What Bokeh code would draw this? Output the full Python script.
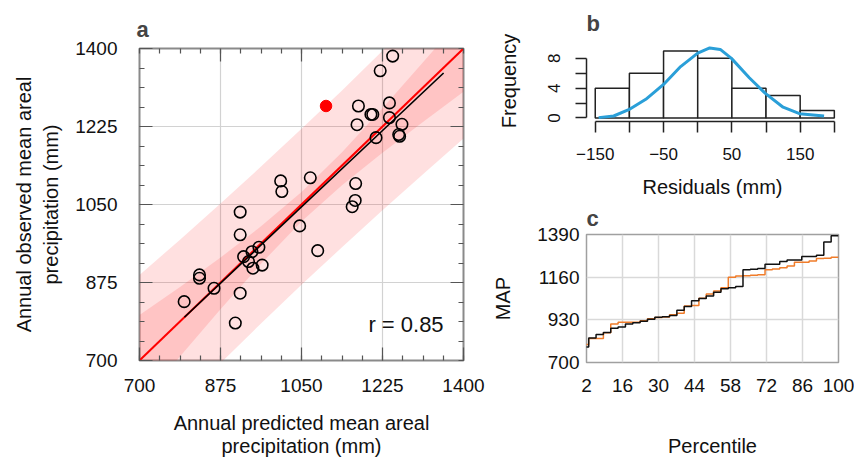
import math
from bokeh.plotting import figure
from bokeh.layouts import row, column
from bokeh.models import LinearAxis, FixedTicker, Range1d
from bokeh.core.properties import value
from bokeh.embed import file_html
from bokeh.resources import INLINE

FONT = "Liberation Sans"

# ---------------- data ----------------
# panel a: predicted (x) vs observed (y) annual mean areal precipitation (mm)
pred = [1247, 1220, 1173, 1200, 1204, 1240, 1240, 1170, 1267, 1211, 1260, 1262,
        1069, 1005, 1007.5, 1167, 1166, 1159.5, 1046, 917.5, 917.5, 1085, 958,
        943, 925, 935.5, 945, 965, 829.6, 829.6, 861, 917.5, 796.5, 907]
obs = [1383, 1350, 1271, 1252, 1252, 1278, 1245, 1229, 1230, 1200, 1207, 1203,
       1110, 1103, 1079, 1097, 1059, 1045, 1002, 1033, 982, 946.5, 954,
       944, 933, 922, 907, 914, 892, 884.5, 862, 851, 832, 784]
red_pred = [1103]
red_obs = [1271]

# regression line and interval bands
fit_x = [797, 1357]
fit_y = [797, 1345]
one_x = [700, 1400]
one_y = [700, 1400]
band_x = [700, 787.5, 875, 962.5, 1050, 1137.5, 1225, 1312.5, 1400]
pi_lo = [512, 603, 694, 783, 870, 954, 1037, 1118, 1198]
pi_hi = [892, 971, 1052, 1135, 1220, 1306, 1395, 1486, 1578]
ci_lo = [602, 709, 815, 917, 1012, 1093, 1166, 1235, 1303]
ci_hi = [802, 865, 931, 1001, 1078, 1167, 1266, 1369, 1473]
r_text = "r = 0.85"

# panel b: histogram of residuals
bin_left = [-150, -100, -50, 0, 50, 100, 150]
bin_right = [-100, -50, 0, 50, 100, 150, 200]
counts = [4, 6, 9, 8, 4, 3, 1]
curve_x = [-145, -123, -101, -76, -50, -25, 0, 17.6, 33, 49.4, 75.5, 99, 125, 149, 185]
curve_y = [0.04, 0.26, 1.1, 2.5, 4.5, 6.9, 8.7, 9.4, 9.2, 8.0, 5.4, 3.3, 1.44, 0.57, 0.26]

# panel c: sorted values vs percentile
obs_all = sorted(obs + red_obs)
pred_all = sorted(pred + red_pred)
n = len(obs_all)
pct = [100.0 * i / n for i in range(n)] + [100.0]
obs_step = obs_all + [obs_all[-1]]
pred_step = pred_all + [pred_all[-1]]

a_ticks = [700, 875, 1050, 1225, 1400]
a_inner = [875, 1050, 1225]
a_minor = [700 + 43.75 * k for k in range(17)]
c_xticks = [2, 16, 30, 44, 58, 72, 86, 100]
c_yticks = [700, 930, 1160, 1390]

# ---------------- panel a ----------------
pa = figure(width=488, height=459, x_range=Range1d(700, 1400), y_range=Range1d(700, 1400),
            output_backend="svg", toolbar_location=None,
            min_border_left=139, min_border_right=25, min_border_top=48, min_border_bottom=98)
pa.outline_line_color = "#8a8a8a"
pa.outline_line_width = 2

pa.varea(x=band_x, y1=pi_lo, y2=pi_hi, fill_color="red", fill_alpha=0.12)
pa.varea(x=band_x, y1=ci_lo, y2=ci_hi, fill_color="red", fill_alpha=0.12)
pa.line(one_x, one_y, color="red", line_width=2)
pa.line(fit_x, fit_y, color="black", line_width=1.6)
pa.scatter(pred, obs, size=11.5, fill_color=None, line_color="black", line_width=1.6)
pa.scatter(red_pred, red_obs, size=11.5, fill_color="red", line_color="red")
pa.text(x=[1357], y=[781], text=[r_text], text_align="right", text_baseline="middle",
        text_font=value(FONT), text_font_size="22px", text_color="#111")

# long inward ticks on the top and right sides (13 px ~ 28 data units)
pa.segment(x0=a_inner, y0=[1400] * 3, x1=a_inner, y1=[1371] * 3, line_color="#555", line_width=1.2)
pa.segment(x0=[1400] * 3, y0=a_inner, x1=[1372] * 3, y1=a_inner, line_color="#555", line_width=1.2)

for g in (pa.xgrid[0], pa.ygrid[0]):
    g.ticker = FixedTicker(ticks=a_inner)
    g.grid_line_color = "#d2d2d2"
    g.grid_line_width = 1.2

xa = pa.xaxis[0]
ya = pa.yaxis[0]
for ax in (xa, ya):
    ax.ticker = FixedTicker(ticks=a_ticks, minor_ticks=a_minor)
    ax.axis_line_color = None
    ax.major_tick_in = 13
    ax.major_tick_out = 0
    ax.minor_tick_in = 5
    ax.minor_tick_out = 0
    ax.major_tick_line_color = "#555"
    ax.minor_tick_line_color = "#555"
    ax.major_tick_line_width = 1.2
    ax.minor_tick_line_width = 1.2
    ax.major_label_text_font = FONT
    ax.major_label_text_color = "#111"
    ax.major_label_text_font_size = "19px"
    ax.axis_label_text_font = FONT
    ax.axis_label_text_font_size = "20px"
    ax.axis_label_text_font_style = "normal"
    ax.axis_label_text_color = "#111"
xa.major_label_standoff = 18
ya.major_label_standoff = 22
xa.axis_label = "Annual predicted mean areal\nprecipitation (mm)"
ya.axis_label = "Annual observed mean areal\nprecipitation (mm)"
xa.axis_label_standoff = 17
xa.axis_label_text_line_height = 1.05
ya.axis_label_standoff = 10
ya.axis_label_text_line_height = 1.25

for loc in ("above", "right"):
    ax = LinearAxis(ticker=FixedTicker(ticks=[], minor_ticks=a_minor))
    ax.axis_line_color = None
    ax.major_tick_in = 0
    ax.major_tick_out = 0
    ax.minor_tick_in = 5
    ax.minor_tick_out = 0
    ax.minor_tick_line_color = "#555"
    ax.minor_tick_line_width = 1.2
    ax.major_label_standoff = 0
    pa.add_layout(ax, loc)

pa.title.text = "a"
pa.title.align = "left"
pa.title.text_font = FONT
pa.title.text_font_size = "22px"
pa.title.text_font_style = "bold"
pa.title.offset = -3
pa.title.standoff = 14

# ---------------- panel b ----------------
pb = figure(width=366, height=200, x_range=Range1d(-162.8, 206.1), y_range=Range1d(-0.48, 10.4),
            output_backend="svg", toolbar_location=None,
            min_border_left=98, min_border_right=9, min_border_top=40, min_border_bottom=77)
pb.outline_line_color = None
pb.grid.visible = False
pb.quad(left=bin_left, right=bin_right, bottom=0, top=counts, fill_color="white",
        line_color="#222", line_width=1.5)
pb.line(curve_x, curve_y, color="#2a9fd8", line_width=3)

bx = pb.xaxis[0]
bx.ticker = FixedTicker(ticks=[-150, -100, -50, 0, 50, 100, 150, 200], minor_ticks=[])
bx.major_label_overrides = {-150: "\u2212150", -100: "", -50: "\u221250", 0: "", 100: "", 200: ""}
bx.bounds = (-150, 200)
by = pb.yaxis[0]
by.ticker = FixedTicker(ticks=[0, 2, 4, 6, 8], minor_ticks=[])
by.major_label_overrides = {2: "", 6: ""}
by.bounds = (0, 8)
by.major_label_orientation = "vertical"
for ax in (bx, by):
    ax.axis_line_color = "#222"
    ax.axis_line_width = 1.5
    ax.major_tick_line_color = "#222"
    ax.major_tick_line_width = 1.5
    ax.major_tick_in = 0
    ax.major_tick_out = 11
    ax.minor_tick_out = 0
    ax.major_label_text_font = FONT
    ax.major_label_text_font_size = "17px"
    ax.major_label_text_color = "#111"
    ax.axis_label_text_font = FONT
    ax.axis_label_text_font_size = "20px"
    ax.axis_label_text_font_style = "normal"
    ax.axis_label_text_color = "#111"
bx.major_label_standoff = 15
by.major_label_standoff = 15
bx.axis_label = "Residuals (mm)"
by.axis_label = "Frequency"
bx.axis_label_standoff = 13
by.axis_label_standoff = 26

pb.title.text = "b"
pb.title.align = "left"
pb.title.text_font = FONT
pb.title.text_font_size = "22px"
pb.title.text_font_style = "bold"

# ---------------- panel c ----------------
pc = figure(width=366, height=259, x_range=Range1d(2, 100), y_range=Range1d(700, 1390),
            output_backend="svg", toolbar_location=None,
            min_border_left=96, min_border_right=16, min_border_top=33, min_border_bottom=96)
pc.outline_line_color = "#a0a0a0"
pc.outline_line_width = 1.5
pc.xgrid[0].ticker = FixedTicker(ticks=c_xticks)
pc.ygrid[0].ticker = FixedTicker(ticks=c_yticks)
pc.grid.grid_line_color = "#d9d9d9"
pc.grid.grid_line_width = 1.5
pc.step(pct, pred_step, mode="after", color="#f07c2a", line_width=1.5)
pc.step(pct, obs_step, mode="after", color="#111", line_width=1.5)

cx = pc.xaxis[0]
cy = pc.yaxis[0]
cx.ticker = FixedTicker(ticks=c_xticks, minor_ticks=[])
cy.ticker = FixedTicker(ticks=c_yticks, minor_ticks=[])
for ax in (cx, cy):
    ax.axis_line_color = None
    ax.major_tick_in = 0
    ax.major_tick_out = 0
    ax.minor_tick_in = 0
    ax.minor_tick_out = 0
    ax.major_label_text_font = FONT
    ax.major_label_text_font_size = "19px"
    ax.major_label_text_color = "#111"
    ax.axis_label_text_font = FONT
    ax.axis_label_text_font_size = "20px"
    ax.axis_label_text_font_style = "normal"
    ax.axis_label_text_color = "#111"
cx.major_label_standoff = 16
cy.major_label_standoff = 7
cx.axis_label = "Percentile"
cy.axis_label = "MAP"
cx.axis_label_standoff = 40
cy.axis_label_standoff = 20

pc.title.text = "c"
pc.title.align = "left"
pc.title.text_font = FONT
pc.title.text_font_size = "22px"
pc.title.text_font_style = "bold"
pc.title.standoff = 7

layout = row(pa, column(pb, pc))
open("out.html", "w").write(file_html(layout, INLINE))
